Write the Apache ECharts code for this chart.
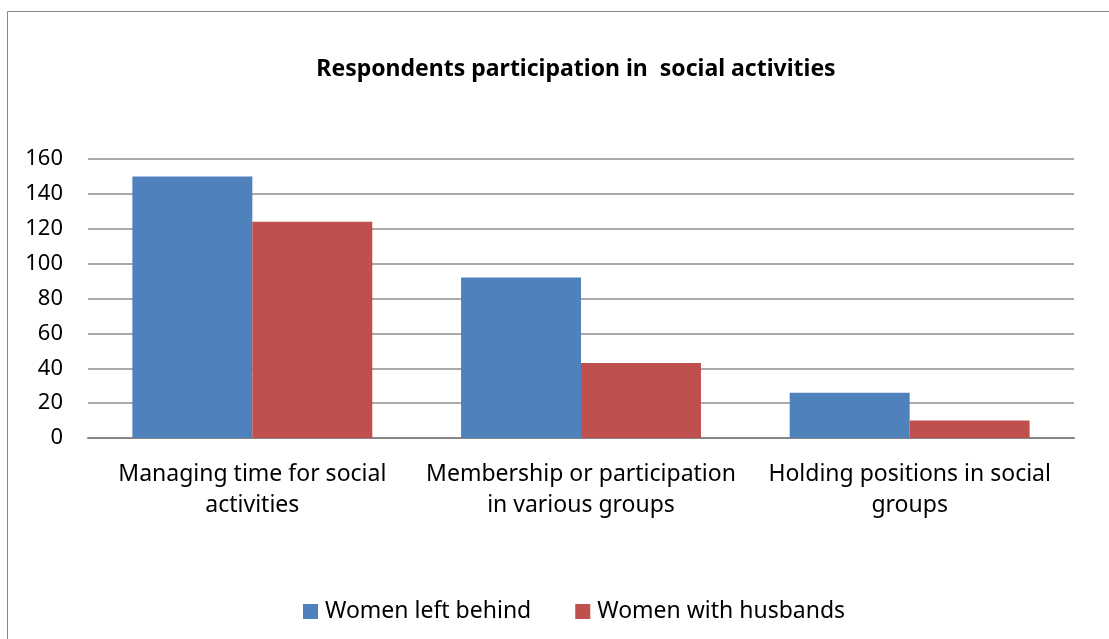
<!DOCTYPE html>
<html>
<head>
<meta charset="utf-8">
<script src="https://cdn.jsdelivr.net/npm/echarts@6/dist/echarts.min.js"></script>
<style>
  html, body { margin: 0; padding: 0; background: #fff; }
  #chart { width: 1109px; height: 639px; }
</style>
</head>
<body>
<div id="chart"></div>
<script>
// 数据
const categories = [
    'Managing time for social\nactivities',
    'Membership or participation\nin various groups',
    'Holding positions in social\ngroups'
]
const leftBehind = [150, 92, 26]
const withHusbands = [124, 43, 10]
const yTicks = { min: 0, max: 160, interval: 20 }

const font = '"Noto Sans", "Open Sans", sans-serif'

const myChart = echarts.init(document.getElementById('chart'))

const option = {
    animation: false,
    title: {
        text: 'Respondents participation in  social activities',
        left: 571,
        top: 53,
        textAlign: 'center',
        textStyle: { fontFamily: font, fontSize: 23, fontWeight: 'bold', color: '#000' }
    },
    legend: {
        data: ['Women left behind', 'Women with husbands'],
        left: 298,
        top: 595,
        itemWidth: 15,
        itemHeight: 15,
        itemGap: 44,
        icon: 'rect',
        textStyle: { fontFamily: font, fontSize: 23, color: '#000', padding: [0, 0, 0, 2] }
    },
    graphic: [{
        type: 'rect',
        shape: { x: 7.5, y: 11.5, width: 1120, height: 660 },
        style: { fill: 'none', stroke: '#868686', lineWidth: 1 },
        silent: true
    }],
    grid: { left: 88, right: 35, top: 159, bottom: 201, containLabel: false },
    xAxis: {
        type: 'category',
        data: categories,
        axisTick: { show: false },
        axisLine: { lineStyle: { color: '#868686', width: 2 } },
        axisLabel: {
            fontFamily: font, fontSize: 23, color: '#000',
            lineHeight: 31, margin: 21, interval: 0
        }
    },
    yAxis: {
        type: 'value',
        min: yTicks.min,
        max: yTicks.max,
        interval: yTicks.interval,
        axisLine: { show: false },
        axisTick: { show: false },
        splitLine: { lineStyle: { color: '#8c8c8c', width: 1.5 } },
        axisLabel: { fontFamily: font, fontSize: 22, color: '#000', margin: 25 }
    },
    series: [
        {
            name: 'Women left behind',
            type: 'bar',
            data: leftBehind,
            barGap: '0%',
            barCategoryGap: '27%',
            itemStyle: { color: '#4f81bd' }
        },
        {
            name: 'Women with husbands',
            type: 'bar',
            data: withHusbands,
            itemStyle: { color: '#c0504d' }
        }
    ]
}

option && myChart.setOption(option, true)
</script>
</body>
</html>
